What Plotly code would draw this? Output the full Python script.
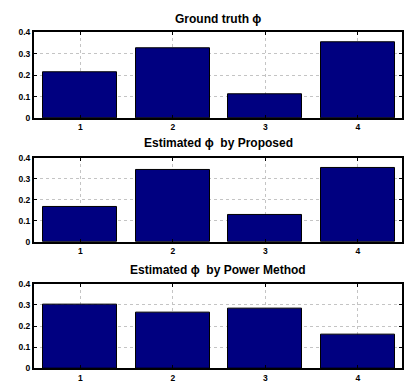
import plotly.graph_objects as go

categories = [1, 2, 3, 4]
ground_truth = [0.215, 0.327, 0.111, 0.352]
proposed = [0.168, 0.345, 0.130, 0.353]
power_method = [0.299, 0.261, 0.284, 0.160]
titles = ["Ground truth ϕ", "Estimated ϕ\u00a0 by Proposed", "Estimated ϕ\u00a0 by Power Method"]
y_ticks = [0, 0.1, 0.2, 0.3, 0.4]
y_tick_labels = ["0", "0.1", "0.2", "0.3", "0.4"]

W, H = 404, 388
# pixel rows (top, bottom) of each panel
panels = [(28, 116), (157, 243), (286, 373)]
title_y = [14, 142, 272]
series = [ground_truth, proposed, power_method]

fig = go.Figure()
FAM = "Liberation Sans, Arial, sans-serif"

for i, (vals, (top, bot)) in enumerate(zip(series, panels)):
    n = i + 1
    xa = "x" if n == 1 else f"x{n}"
    ya = "y" if n == 1 else f"y{n}"
    fig.add_trace(go.Bar(
        x=categories, y=vals, width=0.8,
        marker=dict(color="#000080", line=dict(color="black", width=1)),
        xaxis=xa, yaxis=ya, showlegend=False,
    ))
    dom = [(H - bot) / H, (H - top) / H]
    axis_common = dict(
        showline=True, linecolor="black", linewidth=2, mirror="ticks",
        ticks="inside", ticklen=3, tickcolor="black",
        showgrid=True, gridcolor="#c4c4c4", griddash="dot", gridwidth=1,
        zeroline=False,
        tickfont=dict(family=FAM, size=8.5, color="black"),
    )
    fig.layout[f"xaxis{'' if n == 1 else n}"] = dict(
        axis_common, anchor=ya, domain=[0, 1], range=[0.5, 4.478],
        tickvals=categories, ticktext=[f"<b>{c}</b>" for c in categories],
    )
    fig.layout[f"yaxis{'' if n == 1 else n}"] = dict(
        axis_common, anchor=xa, domain=dom, range=[0, 0.4],
        tickvals=y_ticks, ticktext=[f"<b>{t}</b>" for t in y_tick_labels],
    )
    fig.add_annotation(
        text=f"<b>{titles[i]}</b>", xref="paper", yref="paper",
        x=0.5, y=(H - title_y[i]) / H, yanchor="middle", xanchor="center",
        showarrow=False,
        font=dict(family=FAM, size=12, color="black"),
    )

fig.update_layout(
    width=W, height=H,
    margin=dict(l=34, r=0, t=0, b=0),
    plot_bgcolor="white", paper_bgcolor="white",
    bargap=0,
)

fig.write_html(
    "out.html",
    config={"displayModeBar": False},
    post_script="document.body.style.margin='0';document.body.style.overflow='hidden';",
)
